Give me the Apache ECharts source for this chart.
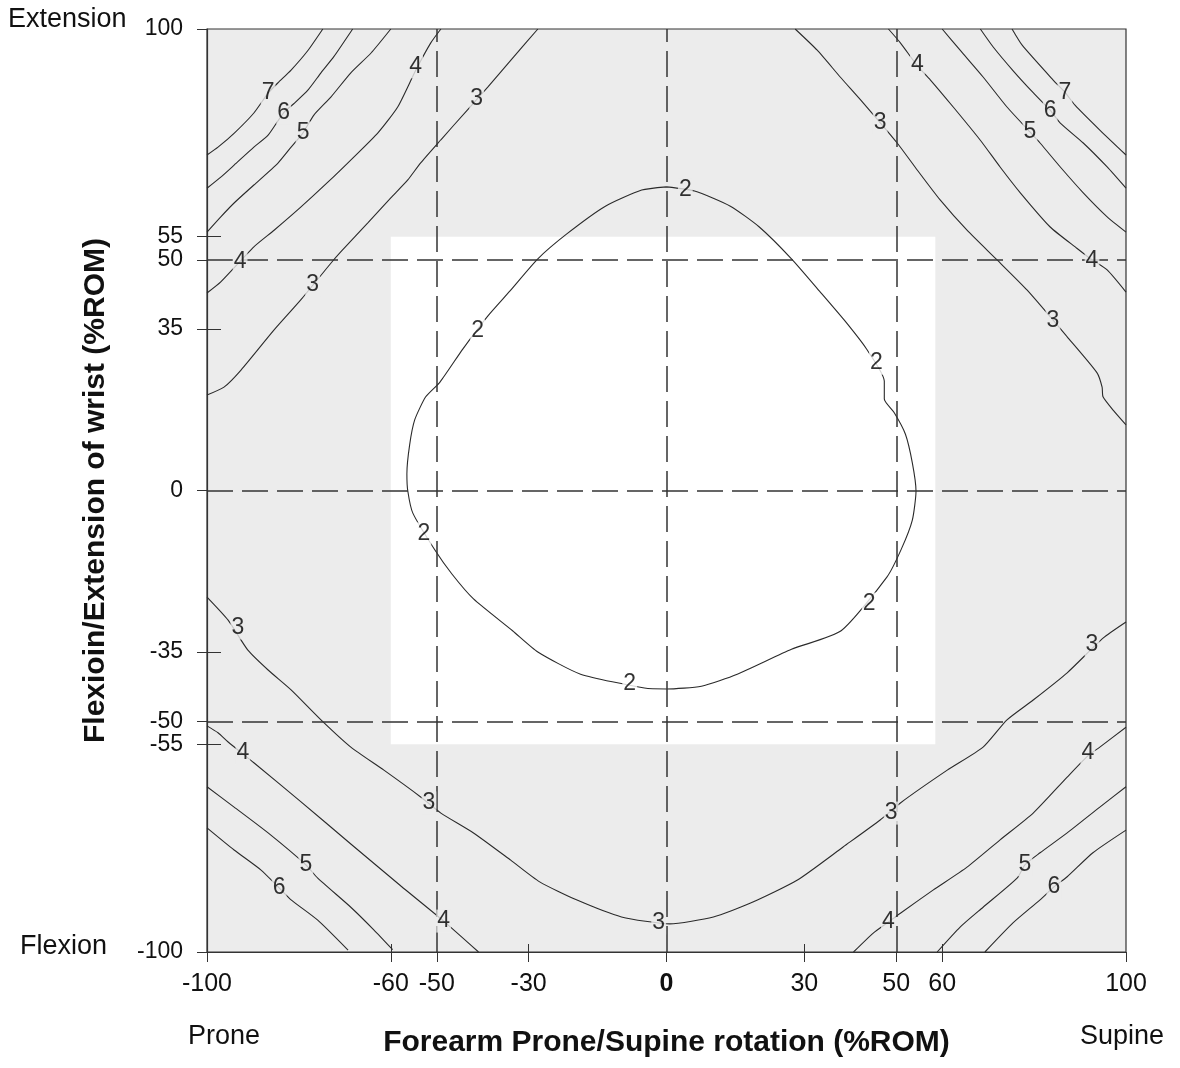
<!DOCTYPE html>
<html>
<head>
<meta charset="utf-8">
<script src="https://cdn.jsdelivr.net/npm/echarts@6/dist/echarts.min.js"></script>
<style>
html, body { margin: 0; padding: 0; background: #fff; }
#chart { width: 1180px; height: 1068px; }
</style>
</head>
<body>
<div id="chart"></div>
<script>
// axis ticks and reference lines (%ROM)
var xTicks = [-100, -60, -50, -30, 0, 30, 50, 60, 100];
var yTicks = [-100, -55, -50, -35, 0, 35, 50, 55, 100];
var xInnerTicks = [-60, -30, 30, 60];
var yInnerTicks = [-55, -35, 35, 55];
var refLines = [-50, 0, 50];
var comfortBox = [[-60, -55], [58.5, 55]];

// contour lines: [rotation, flexion/extension]
var level2 = [[0,65.8],[-5.4,65.1],[-13.3,61.6],[-21.7,55.6],[-28,50.2],[-34.1,43.2],[-38.9,37.8],[-44.3,30.7],[-49.3,23.5],[-52.4,20.3],[-54.8,15.3],[-55.9,9.9],[-56.5,3.6],[-56.3,-0.1],[-55.2,-4.9],[-50.4,-12.9],[-46.7,-18.1],[-42,-23.5],[-33.5,-30.4],[-28,-35],[-18.7,-39.8],[-4.8,-42.8],[0,-43],[7.6,-42.4],[15.4,-39.8],[27.2,-34.4],[38,-30.4],[48,-18.7],[51.1,-12.7],[53.5,-6.4],[54.3,-0.1],[53.5,6],[52,12.2],[49.6,16.8],[47.4,19.8],[47.4,23.7],[43.5,30.7],[38.7,36.9],[33.3,43.2],[27.2,50.2],[20.2,57.1],[13.9,61.6],[6.1,64.9],[0,65.8]];
var level3UpperLeft = [[-100,20.7],[-96.3,22.4],[-92.6,26.1],[-85.4,34.8],[-79.6,41.3],[-73,49.3],[-70.9,51.7],[-65,58],[-60,63.4],[-56.3,67.3],[-53.5,71],[-49.1,76],[-43.3,82.5],[-38.9,87.4],[-33.3,93.9],[-28,100]];
var level3UpperRight = [[28,100],[32.8,95.4],[37.8,89.6],[42.8,84],[50.2,75.3],[54.6,69.4],[59.6,62.9],[65.4,56.4],[72,49.9],[78.5,43.4],[87.2,33.3],[93.7,25.5],[94.8,22.4],[95,20.3],[97.2,17.4],[100,14.2]];
var level3Lower = [[-100,-23.1],[-95.4,-28.1],[-91.1,-34.6],[-86.7,-38.9],[-81.7,-43.2],[-75.2,-49.7],[-68.7,-55.6],[-61.5,-60.6],[-53.5,-66.4],[-49.1,-69.9],[-42,-74.2],[-33.9,-80.1],[-27.6,-84.8],[-19.6,-88.7],[-9.8,-92.4],[0.7,-93.9],[10.2,-92.4],[18.3,-89.4],[28.5,-84.4],[38.5,-77.2],[46.5,-71.4],[50.9,-67.7],[61.1,-60.6],[68.9,-55.6],[74.1,-49.7],[79.8,-45.4],[87.2,-39.5],[95,-32],[100,-28.5]];
var level4UpperLeft = [[-100,42.8],[-97,45.2],[-89.8,52.8],[-85.4,56.4],[-79.6,61.4],[-73.7,66.8],[-68,72.3],[-62.8,77.5],[-58.5,83.1],[-54.6,91],[-51.3,97],[-49.1,100]];
var level4UpperRight = [[48.3,100],[50.9,97],[54.6,92],[57.4,89],[62.4,83.1],[68.3,75.9],[72.6,70.1],[77,64.5],[83.5,57.1],[89.3,52.5],[92.6,50],[95.9,47.8],[100,43]];
var level4LowerLeft = [[-100,-51],[-97.6,-52.5],[-95.4,-54.5],[-89.8,-59],[-79.6,-67.4],[-68.7,-76.6],[-57.8,-85.7],[-48.5,-93.3],[-40.9,-100]];
var level4LowerRight = [[40.7,-100],[45,-95.9],[48.3,-93.5],[50.9,-91.6],[58,-86.6],[65.4,-81.6],[72.6,-75.7],[79.8,-69.9],[87.2,-62.1],[91.7,-57.5],[94.3,-55.6],[100,-51.3]];
var level5UpperLeft = [[-100,56],[-97,59.3],[-94.1,62.3],[-89.8,66.2],[-84.6,70.9],[-81.7,74.4],[-79.1,77.5],[-76.7,81.4],[-73,85.3],[-68.7,90.5],[-64.3,94.8],[-60,100]];
var level5UpperRight = [[60,100],[63.9,95.4],[68.9,89.6],[74.1,83.1],[79.1,77.7],[81.3,75.3],[85.7,70.1],[90.7,64.5],[95.9,59.3],[100,56]];
var level5LowerLeft = [[-100,-64.2],[-94.1,-68.6],[-86.7,-74.2],[-78.5,-81.1],[-75.9,-84],[-68.7,-90.3],[-63.7,-95.2],[-59.6,-99.5]];
var level5LowerRight = [[58.9,-100],[63.9,-94.6],[68.9,-90.3],[76.3,-84],[78,-81.1],[81.3,-78.5],[87.2,-74.2],[94.3,-68.6],[100,-64.2]];
var level6UpperLeft = [[-100,65.5],[-97,67.9],[-94.1,70.5],[-89.8,74.4],[-86.7,77],[-83.3,81.9],[-80.9,84],[-78,86.8],[-75.2,90.5],[-72.4,94],[-68.3,100]];
var level6UpperRight = [[68.3,100],[71.1,96.1],[75.4,91],[79.8,86.2],[83.5,82.4],[85.7,79.6],[90.7,75.3],[95.9,70.1],[100,65.5]];
var level6LowerLeft = [[-100,-73.1],[-94.1,-77.9],[-88.3,-82.2],[-84.3,-86.1],[-81.7,-88.7],[-75.9,-93.1],[-69.3,-99.6]];
var level6LowerRight = [[69.3,-100],[75.4,-93.7],[81.3,-88.7],[84.3,-85.9],[87.2,-83.7],[92.8,-78.5],[100,-73.6]];
var level7UpperLeft = [[-100,72.7],[-97.6,74.4],[-94,77.5],[-89.8,81.8],[-86.7,86.1],[-84.6,88.3],[-81.7,91.1],[-78,95.4],[-74.8,100]];
var level7UpperRight = [[75.2,100],[77.4,96.5],[84.1,89],[86.7,86.3],[88.9,83.5],[94.3,78.1],[100,72.7]];

// contour value labels: [x, y, text]
var contourLabels = [
    [4.1,65.1,'2'],[-41.1,34.6,'2'],[-52.8,-9.4,'2'],[-8,-41.9,'2'],[44.1,-24.6,'2'],[45.7,27.6,'2'],
    [-77,44.5,'3'],[-41.3,85,'3'],[46.5,79.6,'3'],[84.1,36.9,'3'],[-93.3,-29.8,'3'],[-51.7,-67.7,'3'],[-1.7,-93.7,'3'],[48.9,-69.9,'3'],[92.6,-33.5,'3'],
    [-92.8,49.5,'4'],[-54.6,91.8,'4'],[54.6,92.2,'4'],[92.6,49.9,'4'],[-92.2,-56.9,'4'],[-48.5,-93.3,'4'],[48.3,-93.5,'4'],[91.7,-56.9,'4'],
    [-79.1,77.5,'5'],[79.1,77.7,'5'],[-78.5,-81.1,'5'],[78,-81.1,'5'],
    [-83.3,81.9,'6'],[83.5,82.4,'6'],[-84.3,-86.1,'6'],[84.3,-85.9,'6'],
    [-86.7,86.1,'7'],[86.7,86.3,'7']
];

var contours = [
    level2, level3UpperLeft, level3UpperRight, level3Lower,
    level4UpperLeft, level4UpperRight, level4LowerLeft, level4LowerRight,
    level5UpperLeft, level5UpperRight, level5LowerLeft, level5LowerRight,
    level6UpperLeft, level6UpperRight, level6LowerLeft, level6LowerRight,
    level7UpperLeft, level7UpperRight
];

var GRAY = '#ececec';
var INK = '#333';
var FONT = '"Liberation Sans", Arial, sans-serif';

function inBox(x, y) {
    return x >= comfortBox[0][0] && x <= comfortBox[1][0] &&
        y >= comfortBox[0][1] && y <= comfortBox[1][1];
}

var myChart = echarts.init(document.getElementById('chart'));

var series = [];
// white comfort zone
series.push({
    type: 'line',
    data: [],
    silent: true,
    z: 1,
    markArea: {
        silent: true,
        itemStyle: { color: '#ffffff' },
        data: [[{ coord: comfortBox[0] }, { coord: comfortBox[1] }]]
    }
});
// dashed reference lines at -50 / 0 / 50
series.push({
    type: 'line',
    data: [],
    silent: true,
    z: 3,
    markLine: {
        silent: true,
        symbol: ['none', 'none'],
        label: { show: false },
        lineStyle: { color: INK, width: 1.5, type: [26, 9] },
        data: refLines.map(function (v) { return { xAxis: v }; })
            .concat(refLines.map(function (v) { return { yAxis: v }; }))
    }
});
contours.forEach(function (c) {
    series.push({
        type: 'line',
        data: c,
        symbol: 'none',
        smooth: 0.2,
        silent: true,
        z: 2,
        lineStyle: { color: '#2a2a2a', width: 1.1 }
    });
});
series.push({
    type: 'scatter',
    z: 5,
    silent: true,
    symbolSize: 1,
    itemStyle: { color: 'rgba(0,0,0,0)' },
    data: contourLabels.map(function (d) {
        return {
            value: d,
            label: { backgroundColor: inBox(d[0], d[1]) ? '#ffffff' : GRAY }
        };
    }),
    label: {
        show: true,
        position: 'inside',
        formatter: function (p) { return p.value[2]; },
        fontFamily: FONT,
        fontSize: 23,
        color: '#000',
        textBorderWidth: 0,
        padding: [0, 1]
    }
});

var option = {
    animation: false,
    backgroundColor: '#fff',
    grid: {
        left: 207, right: 54, top: 29, bottom: 116,
        show: true,
        backgroundColor: GRAY,
        borderColor: INK,
        borderWidth: 1.2,
        outerBoundsMode: 'none'
    },
    xAxis: [
        {
            type: 'value', min: -100, max: 100, position: 'bottom',
            name: 'Forearm Prone/Supine rotation (%ROM)',
            nameLocation: 'middle',
            nameGap: 76,
            nameTextStyle: { fontFamily: FONT, fontSize: 30, fontWeight: 'bold', color: '#111' },
            axisLine: { show: true, onZero: false, lineStyle: { color: INK, width: 1.2 } },
            axisTick: { show: true, customValues: xTicks, length: 10, lineStyle: { color: INK } },
            axisLabel: {
                customValues: xTicks, margin: 20, fontFamily: FONT, fontSize: 25, color: '#111',
                formatter: function (v) { return v === 0 ? '{b|0}' : String(v); },
                rich: { b: { fontFamily: FONT, fontSize: 25, fontWeight: 'bold', color: '#111' } }
            },
            splitLine: { show: false }
        },
        {
            type: 'value', min: -100, max: 100, position: 'bottom',
            axisLine: { show: false, onZero: false },
            axisTick: { show: true, inside: true, customValues: xInnerTicks, length: 8, lineStyle: { color: INK } },
            axisLabel: { show: false },
            splitLine: { show: false }
        }
    ],
    yAxis: [
        {
            type: 'value', min: -100, max: 100, position: 'left',
            name: 'Flexioin/Extension of wrist (%ROM)',
            nameLocation: 'middle',
            nameGap: 96,
            nameTextStyle: { fontFamily: FONT, fontSize: 30, fontWeight: 'bold', color: '#111' },
            axisLine: { show: true, onZero: false, lineStyle: { color: INK, width: 1.2 } },
            axisTick: { show: true, customValues: yTicks, length: 10, lineStyle: { color: INK } },
            axisLabel: { customValues: yTicks, margin: 24, fontFamily: FONT, fontSize: 23, color: '#111' },
            splitLine: { show: false }
        },
        {
            type: 'value', min: -100, max: 100, position: 'left',
            axisLine: { show: false, onZero: false },
            axisTick: { show: true, inside: true, customValues: yInnerTicks, length: 14, lineStyle: { color: INK } },
            axisLabel: { show: false },
            splitLine: { show: false }
        }
    ],
    graphic: [
        { type: 'text', left: 8, top: 6, style: { text: 'Extension', fontFamily: FONT, fontSize: 27, fill: '#111' } },
        { type: 'text', left: 20, top: 933, style: { text: 'Flexion', fontFamily: FONT, fontSize: 27, fill: '#111' } },
        { type: 'text', left: 188, top: 1023, style: { text: 'Prone', fontFamily: FONT, fontSize: 27, fill: '#111' } },
        { type: 'text', left: 1080, top: 1023, style: { text: 'Supine', fontFamily: FONT, fontSize: 27, fill: '#111' } }
    ],
    series: series
};
myChart.setOption(option);
</script>
</body>
</html>
